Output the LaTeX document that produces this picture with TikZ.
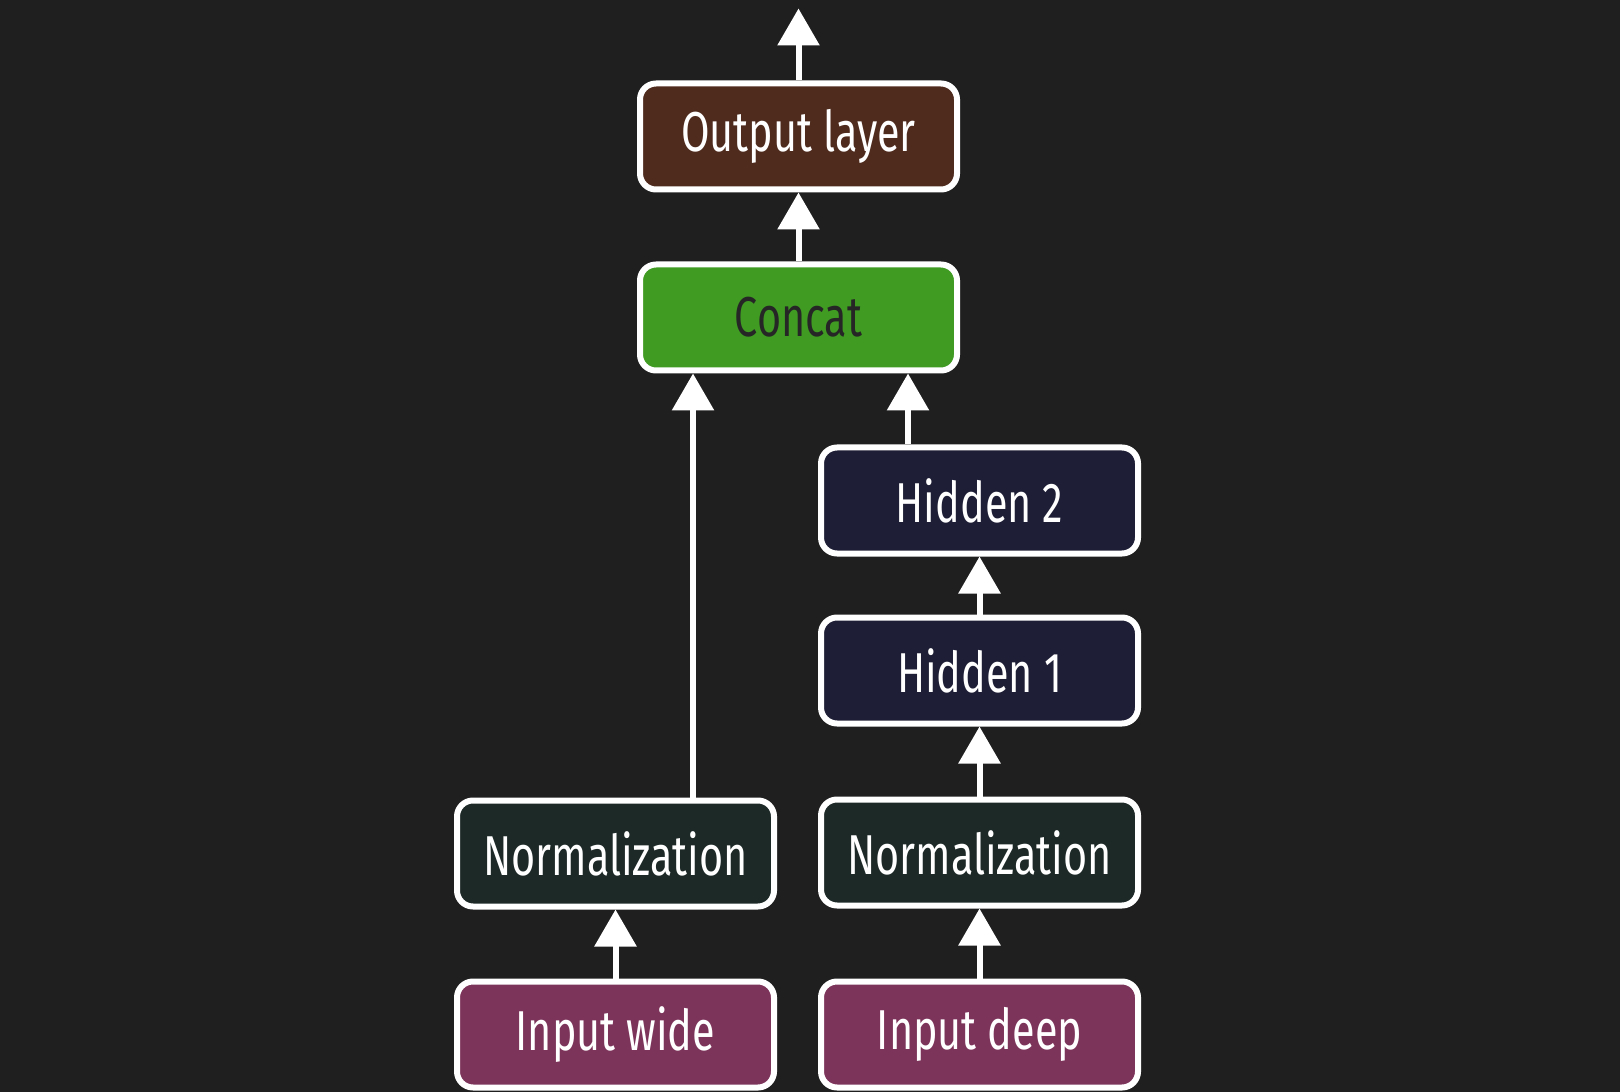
\documentclass[tikz,border=0pt]{standalone}
\usepackage{fontspec}
\setmainfont{Fira Sans}[FakeStretch=0.735]
\usepackage{tikz}
\usetikzlibrary{positioning,arrows.meta}

\definecolor{bgcol}{HTML}{1F1F1F}
\definecolor{outcol}{HTML}{4F2B1E}
\definecolor{catcol}{HTML}{3F9B22}
\definecolor{hidcol}{HTML}{1E1E36}
\definecolor{normcol}{HTML}{1D2927}
\definecolor{incol}{HTML}{7D345A}

\begin{document}
\begin{tikzpicture}[layerbox/.style={rectangle, rounded corners=0.16cm, draw=white, line width=0.06cm, minimum width=3.17cm, minimum height=1.06cm, text=white, font=\fontsize{16}{19}\selectfont},
        arr/.style={draw=white, line width=0.06cm, -{Triangle[width=0.41cm,length=0.37cm]}}]

        \fill[bgcol] (0,0) rectangle (16.2,-10.92);
        \useasboundingbox (0,0) rectangle (16.2,-10.92);

        % inputs and normalization
        \node[layerbox, fill=incol] (inwide) at (6.155,-10.345) {Input wide};
        \node[layerbox, fill=incol] (indeep) [right=0.41cm of inwide] {Input deep};
        \node[layerbox, fill=normcol] (normwide) [above=0.69cm of inwide] {Normalization};
        \node[layerbox, fill=normcol] (normdeep) [above=0.70cm of indeep] {Normalization};

        % deep path
        \node[layerbox, fill=hidcol] (hidone) [above=0.70cm of normdeep] {Hidden 1};
        \node[layerbox, fill=hidcol] (hidtwo) [above=0.58cm of hidone] {Hidden 2};

        % merge and output
        \node[layerbox, fill=catcol, text=black!85] (concat) at (7.985,-3.175) {Concat};
        \node[layerbox, fill=outcol] (outlayer) [above=0.69cm of concat] {Output layer};
        \coordinate (outtip) at ([yshift=0.72cm]outlayer.north);

        \draw[arr] (inwide) -- (normwide);
        \draw[arr] (indeep) -- (normdeep);
        \draw[arr] (normdeep) -- (hidone);
        \draw[arr] (hidone) -- (hidtwo);
        \draw[arr] ([xshift=-1.055cm]concat.south |- normwide.north) -- ([xshift=-1.055cm]concat.south);
        \draw[arr] ([xshift=-0.715cm]hidtwo.north) -- ([xshift=-0.715cm]hidtwo.north |- concat.south);
        \draw[arr] (concat) -- (outlayer);
        \draw[arr] (outlayer) -- (outtip);

\end{tikzpicture}
\end{document}
